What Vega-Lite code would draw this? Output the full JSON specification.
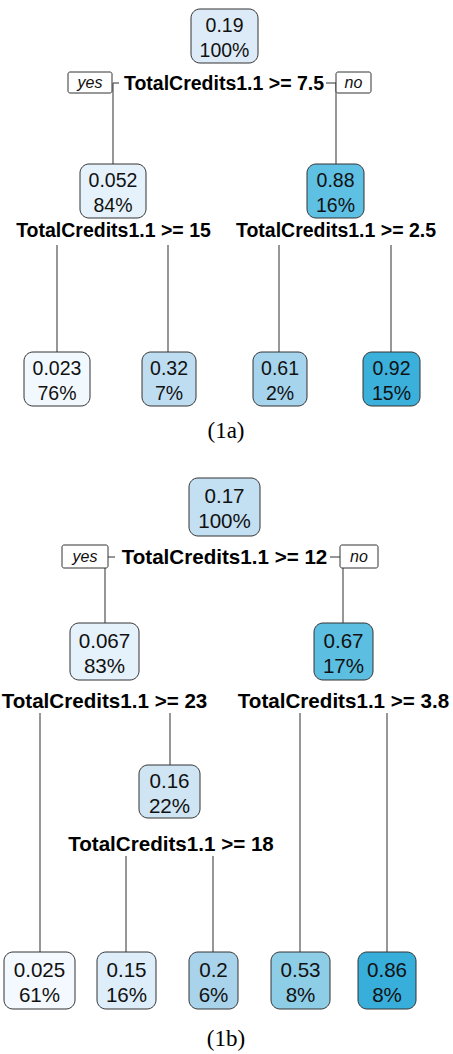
{
  "$schema": "https://vega.github.io/schema/vega-lite/v6.json",
  "width": 453,
  "height": 1054,
  "padding": 0,
  "autosize": {"type": "fit", "contains": "padding"},
  "background": "white",
  "config": {"view": {"stroke": null}},
  "datasets": {
    "nodes": [
      {"id": "a0", "panel": "a", "x1": 191, "x2": 258, "y1": 9, "y2": 63, "xc": 224.5, "yc": 36, "val": "0.19", "pct": "100%"},
      {"id": "a1", "panel": "a", "x1": 80, "x2": 146, "y1": 164, "y2": 218, "xc": 113, "yc": 191, "val": "0.052", "pct": "84%"},
      {"id": "a2", "panel": "a", "x1": 307, "x2": 364, "y1": 164, "y2": 218, "xc": 335.5, "yc": 191, "val": "0.88", "pct": "16%"},
      {"id": "a3", "panel": "a", "x1": 24, "x2": 90, "y1": 352, "y2": 406, "xc": 57, "yc": 379, "val": "0.023", "pct": "76%"},
      {"id": "a4", "panel": "a", "x1": 142, "x2": 196, "y1": 352, "y2": 406, "xc": 169, "yc": 379, "val": "0.32", "pct": "7%"},
      {"id": "a5", "panel": "a", "x1": 253, "x2": 307, "y1": 352, "y2": 406, "xc": 280, "yc": 379, "val": "0.61", "pct": "2%"},
      {"id": "a6", "panel": "a", "x1": 363, "x2": 420, "y1": 352, "y2": 406, "xc": 391.5, "yc": 379, "val": "0.92", "pct": "15%"},
      {"id": "b0", "panel": "b", "x1": 189, "x2": 260, "y1": 478, "y2": 536, "xc": 224.5, "yc": 507, "val": "0.17", "pct": "100%"},
      {"id": "b1", "panel": "b", "x1": 70, "x2": 139, "y1": 623, "y2": 680, "xc": 104.5, "yc": 651.5, "val": "0.067", "pct": "83%"},
      {"id": "b2", "panel": "b", "x1": 314, "x2": 373, "y1": 623, "y2": 680, "xc": 343.5, "yc": 651.5, "val": "0.67", "pct": "17%"},
      {"id": "b3", "panel": "b", "x1": 139, "x2": 200, "y1": 765, "y2": 818, "xc": 169.5, "yc": 791.5, "val": "0.16", "pct": "22%"},
      {"id": "b4", "panel": "b", "x1": 4, "x2": 75, "y1": 952, "y2": 1009, "xc": 39.5, "yc": 980.5, "val": "0.025", "pct": "61%"},
      {"id": "b5", "panel": "b", "x1": 97, "x2": 156, "y1": 952, "y2": 1009, "xc": 126.5, "yc": 980.5, "val": "0.15", "pct": "16%"},
      {"id": "b6", "panel": "b", "x1": 189, "x2": 238, "y1": 952, "y2": 1009, "xc": 213.5, "yc": 980.5, "val": "0.2", "pct": "6%"},
      {"id": "b7", "panel": "b", "x1": 271, "x2": 330, "y1": 952, "y2": 1009, "xc": 300.5, "yc": 980.5, "val": "0.53", "pct": "8%"},
      {"id": "b8", "panel": "b", "x1": 358, "x2": 416, "y1": 952, "y2": 1009, "xc": 387, "yc": 980.5, "val": "0.86", "pct": "8%"}
    ],
    "edges": [
      {"x1": 113, "y1": 83, "x2": 113, "y2": 164},
      {"x1": 113, "y1": 83, "x2": 119, "y2": 83},
      {"x1": 336, "y1": 83, "x2": 336, "y2": 164},
      {"x1": 326, "y1": 83, "x2": 336, "y2": 83},
      {"x1": 57, "y1": 245, "x2": 57, "y2": 352},
      {"x1": 168, "y1": 245, "x2": 168, "y2": 352},
      {"x1": 279, "y1": 245, "x2": 279, "y2": 352},
      {"x1": 391, "y1": 245, "x2": 391, "y2": 352},
      {"x1": 105, "y1": 557, "x2": 105, "y2": 623},
      {"x1": 105, "y1": 557, "x2": 115, "y2": 557},
      {"x1": 343, "y1": 557, "x2": 343, "y2": 623},
      {"x1": 330, "y1": 557, "x2": 343, "y2": 557},
      {"x1": 40, "y1": 713, "x2": 40, "y2": 952},
      {"x1": 170, "y1": 713, "x2": 170, "y2": 765},
      {"x1": 300, "y1": 713, "x2": 300, "y2": 952},
      {"x1": 387, "y1": 713, "x2": 387, "y2": 952},
      {"x1": 126, "y1": 856, "x2": 126, "y2": 952},
      {"x1": 213, "y1": 856, "x2": 213, "y2": 952}
    ],
    "splits": [
      {"panel": "a", "x": 224, "y": 90, "label": "TotalCredits1.1 >= 7.5"},
      {"panel": "a", "x": 113.5, "y": 237, "label": "TotalCredits1.1 >= 15"},
      {"panel": "a", "x": 336, "y": 237, "label": "TotalCredits1.1 >= 2.5"},
      {"panel": "b", "x": 224.5, "y": 564, "label": "TotalCredits1.1 >= 12"},
      {"panel": "b", "x": 104.5, "y": 708, "label": "TotalCredits1.1 >= 23"},
      {"panel": "b", "x": 343.5, "y": 708, "label": "TotalCredits1.1 >= 3.8"},
      {"panel": "b", "x": 171, "y": 851, "label": "TotalCredits1.1 >= 18"}
    ],
    "yesno": [
      {"x1": 68, "x2": 112, "y1": 72, "y2": 93, "xc": 90, "yb": 88, "label": "yes"},
      {"x1": 336, "x2": 371, "y1": 72, "y2": 93, "xc": 353.5, "yb": 88, "label": "no"},
      {"x1": 62, "x2": 108, "y1": 545, "y2": 568, "xc": 85, "yb": 562, "label": "yes"},
      {"x1": 340, "x2": 378, "y1": 545, "y2": 568, "xc": 359, "yb": 562, "label": "no"}
    ],
    "captions": [
      {"x": 226, "y": 438, "label": "(1a)"},
      {"x": 226, "y": 1046, "label": "(1b)"}
    ]
  },
  "layer": [
    {
      "data": {"name": "edges"},
      "mark": {"type": "rule", "color": "#404040", "strokeWidth": 1.1},
      "encoding": {
        "x": {"field": "x1", "type": "quantitative", "scale": {"domain": [0, 453], "nice": false, "zero": false}, "axis": null},
        "x2": {"field": "x2"},
        "y": {"field": "y1", "type": "quantitative", "scale": {"domain": [0, 1054], "nice": false, "zero": false, "reverse": true}, "axis": null},
        "y2": {"field": "y2"}
      }
    },
    {
      "data": {"name": "yesno"},
      "mark": {"type": "rect", "fill": "white", "stroke": "#333333", "strokeWidth": 1, "cornerRadius": 2},
      "encoding": {
        "x": {"field": "x1", "type": "quantitative", "scale": {"domain": [0, 453], "nice": false, "zero": false}, "axis": null},
        "x2": {"field": "x2"},
        "y": {"field": "y1", "type": "quantitative", "scale": {"domain": [0, 1054], "nice": false, "zero": false, "reverse": true}, "axis": null},
        "y2": {"field": "y2"}
      }
    },
    {
      "data": {"name": "yesno"},
      "mark": {"type": "text", "font": "Liberation Sans", "fontStyle": "italic", "fontSize": 16, "baseline": "alphabetic", "align": "center", "color": "#111111"},
      "encoding": {
        "x": {"field": "xc", "type": "quantitative", "scale": {"domain": [0, 453], "nice": false, "zero": false}, "axis": null},
        "y": {"field": "yb", "type": "quantitative", "scale": {"domain": [0, 1054], "nice": false, "zero": false, "reverse": true}, "axis": null},
        "text": {"field": "label"}
      }
    },
    {
      "data": {"name": "nodes"},
      "mark": {"type": "rect", "stroke": "#333333", "strokeWidth": 1, "cornerRadius": 9},
      "encoding": {
        "x": {"field": "x1", "type": "quantitative", "scale": {"domain": [0, 453], "nice": false, "zero": false}, "axis": null},
        "x2": {"field": "x2"},
        "y": {"field": "y1", "type": "quantitative", "scale": {"domain": [0, 1054], "nice": false, "zero": false, "reverse": true}, "axis": null},
        "y2": {"field": "y2"},
        "fill": {
          "field": "id", "type": "nominal", "legend": null,
          "scale": {
            "domain": ["a0", "a1", "a2", "a3", "a4", "a5", "a6", "b0", "b1", "b2", "b3", "b4", "b5", "b6", "b7", "b8"],
            "range": ["#DCEBF7", "#E5F2FB", "#5EC0E3", "#F2F9FE", "#BFDDF1", "#A5D4EC", "#3AB0DB", "#C3DFF2", "#E5F2FB", "#5CBEE0", "#CFE5F4", "#F3F9FE", "#DDEDF9", "#A9D3EB", "#8ECDE6", "#38AEDB"]
          }
        }
      }
    },
    {
      "data": {"name": "nodes"},
      "mark": {"type": "text", "font": "Liberation Sans", "baseline": "alphabetic", "align": "center", "dy": -4, "color": "#111111"},
      "encoding": {
        "x": {"field": "xc", "type": "quantitative", "scale": {"domain": [0, 453], "nice": false, "zero": false}, "axis": null},
        "y": {"field": "yc", "type": "quantitative", "scale": {"domain": [0, 1054], "nice": false, "zero": false, "reverse": true}, "axis": null},
        "text": {"field": "val"},
        "size": {"field": "panel", "type": "ordinal", "legend": null, "scale": {"domain": ["a", "b"], "range": [19.5, 20.6]}}
      }
    },
    {
      "data": {"name": "nodes"},
      "mark": {"type": "text", "font": "Liberation Sans", "baseline": "alphabetic", "align": "center", "dy": 21, "color": "#111111"},
      "encoding": {
        "x": {"field": "xc", "type": "quantitative", "scale": {"domain": [0, 453], "nice": false, "zero": false}, "axis": null},
        "y": {"field": "yc", "type": "quantitative", "scale": {"domain": [0, 1054], "nice": false, "zero": false, "reverse": true}, "axis": null},
        "text": {"field": "pct"},
        "size": {"field": "panel", "type": "ordinal", "legend": null, "scale": {"domain": ["a", "b"], "range": [19.5, 20.6]}}
      }
    },
    {
      "data": {"name": "splits"},
      "mark": {"type": "text", "font": "Liberation Sans", "fontWeight": "bold", "baseline": "alphabetic", "align": "center", "color": "#000000"},
      "encoding": {
        "x": {"field": "x", "type": "quantitative", "scale": {"domain": [0, 453], "nice": false, "zero": false}, "axis": null},
        "y": {"field": "y", "type": "quantitative", "scale": {"domain": [0, 1054], "nice": false, "zero": false, "reverse": true}, "axis": null},
        "text": {"field": "label"},
        "size": {"field": "panel", "type": "ordinal", "legend": null, "scale": {"domain": ["a", "b"], "range": [19.5, 20.6]}}
      }
    },
    {
      "data": {"name": "captions"},
      "mark": {"type": "text", "font": "Liberation Serif", "fontSize": 23, "baseline": "alphabetic", "align": "center", "color": "#000000"},
      "encoding": {
        "x": {"field": "x", "type": "quantitative", "scale": {"domain": [0, 453], "nice": false, "zero": false}, "axis": null},
        "y": {"field": "y", "type": "quantitative", "scale": {"domain": [0, 1054], "nice": false, "zero": false, "reverse": true}, "axis": null},
        "text": {"field": "label"}
      }
    }
  ]
}
